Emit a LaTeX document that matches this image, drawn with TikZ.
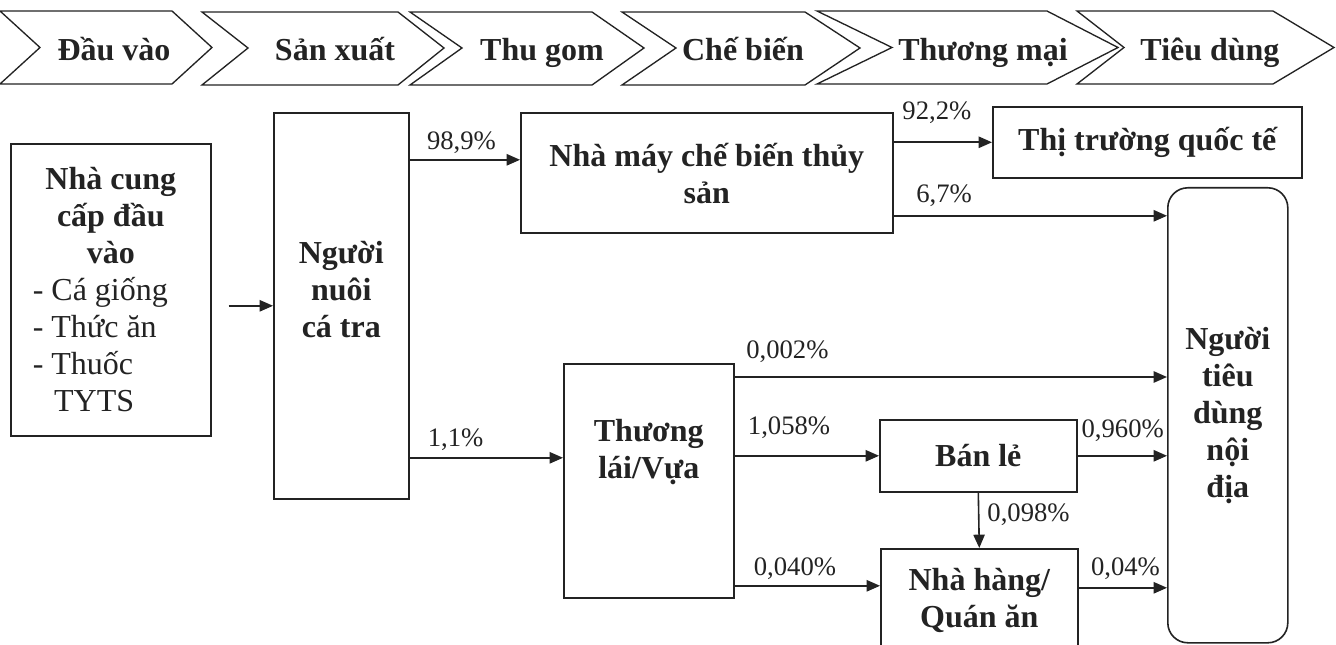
\documentclass[tikz,border=0pt]{standalone}
\usepackage{fontspec}
\setmainfont{Liberation Serif}
\usetikzlibrary{arrows.meta,calc}
\definecolor{ink}{RGB}{35,35,35}
\newcommand{\bxfont}{\fontsize{24pt}{27.75pt}\selectfont\bfseries}
\newcommand{\lbfont}{\fontsize{20pt}{24pt}\selectfont}
\begin{document}
\begin{tikzpicture}[x=0.75pt,y=-0.75pt,
  box/.style={draw=ink, line width=1.2pt, rectangle, inner sep=0pt, align=center, font=\bxfont, text=ink, anchor=north west},
  lbl/.style={font=\lbfont, text=ink, inner sep=0pt},
  arr/.style={draw=ink, line width=1.2pt, -{Triangle[length=10pt,width=8.5pt]}},
  chev/.style={draw=ink, line width=1.0pt},
  chevtext/.style={font=\bxfont, text=ink, anchor=base, inner sep=0pt}]
\path[use as bounding box, fill=white] (0,0) rectangle (1336,645);
\clip (0,0) rectangle (1336,645);

% chevrons
\draw[chev] (0,11) -- (172,11) -- (212,47.5) -- (172,84) -- (0,84) -- (40,47.5) -- cycle;
\draw[chev] (202,12) -- (398,12) -- (444,48) -- (398,85) -- (202,85) -- (248,48) -- cycle;
\draw[chev] (410,12) -- (592,12) -- (644,48) -- (592,85) -- (410,85) -- (462,48) -- cycle;
\draw[chev] (622,12) -- (805,12) -- (860,48) -- (805,85) -- (622,85) -- (676,48) -- cycle;
\draw[chev] (817,11) -- (1047,11) -- (1118,47.5) -- (1047,84) -- (817,84) -- (892,47.5) -- cycle;
\draw[chev] (1077,11) -- (1273,11) -- (1334,47.5) -- (1273,84) -- (1077,84) -- (1124,47.5) -- cycle;
\node[chevtext] (c1) at (114,61) {Đầu vào};
\node[chevtext] (c2) at (335,61) {Sản xuất};
\node[chevtext] (c3) at (542,61) {Thu gom};
\node[chevtext] (c4) at (743,61) {Chế biến};
\node[chevtext] (c5) at (983,61) {Thương mại};
\node[chevtext] (c6) at (1210,61) {Tiêu dùng};

% boxes
\node[box, minimum width=150pt, minimum height=219pt] (supply) at (10,143)
  {Nhà cung\\cấp đầu\\vào\\
   \makebox[117pt][l]{\mdseries - Cá giống}\\
   \makebox[117pt][l]{\mdseries - Thức ăn}\\
   \makebox[117pt][l]{\mdseries - Thuốc}\\
   \makebox[117pt][l]{\mdseries\hspace{16pt}TYTS}};
\node[box, minimum width=101.25pt, minimum height=289.5pt] (nuoi) at (273,112)
  {\raisebox{9.75pt}[\height][\depth]{\begin{tabular}{@{}c@{}}Người\\nuôi\\cá tra\end{tabular}}};
\node[box, minimum width=279pt, minimum height=90pt] (nhamay) at (520,112)
  {\raisebox{-3.75pt}[\height][\depth]{\begin{tabular}{@{}c@{}}Nhà máy chế biến thủy\\sản\end{tabular}}};
\node[box, minimum width=231.75pt, minimum height=53.25pt] (quocte) at (992,106)
  {Thị trường quốc tế};
\node[box, rounded corners=15pt, minimum width=90pt, minimum height=341.25pt] (noidia) at (1167,187)
  {Người\\tiêu\\dùng\\nội\\địa};
\node[box, minimum width=127.5pt, minimum height=175.5pt] (thuonglai) at (563,363)
  {\raisebox{21pt}[\height][\depth]{\begin{tabular}{@{}c@{}}Thương\\lái/Vựa\end{tabular}}};
\node[box, minimum width=147.75pt, minimum height=54pt] (banle) at (879,419)
  {Bán lẻ};
\node[box, minimum width=147.75pt, minimum height=78pt] (nhahang) at (880,548)
  {Nhà hàng/\\Quán ăn};

% connectors
\coordinate (s1) at ($(supply.east |- nuoi.west)+(17,0)$);
\draw[arr] (s1) -- (nuoi.west);

\coordinate (a2) at ($(nhamay.west)+(0,-13)$);
\draw[arr] (a2 -| nuoi.east) -- node[lbl, pos=0.47, yshift=12.75pt] {98,9\%} (a2);

\coordinate (a3) at ($(thuonglai.west)+(0,-23)$);
\draw[arr] (a3 -| nuoi.east) -- node[lbl, pos=0.30, yshift=13.5pt] {1,1\%} (a3);

\draw[arr] (nhamay.east |- quocte.west) -- node[lbl, pos=0.44, yshift=22pt] {92,2\%} (quocte.west);

\coordinate (a5) at ($(nhamay.east)+(0,43)$);
\draw[arr] (a5) -- node[lbl, pos=0.185, yshift=15pt] {6,7\%} (a5 -| noidia.west);

\coordinate (a6) at ($(thuonglai.north east)+(0,14)$);
\draw[arr] (a6) -- node[lbl, pos=0.122, yshift=18.75pt] {0,002\%} (a6 -| noidia.west);

\draw[arr] (thuonglai.east |- banle.west) -- node[lbl, pos=0.377, yshift=21pt] {1,058\%} (banle.west);

\coordinate (a8) at ($(nhahang.west)+(0,-15)$);
\draw[arr] (a8 -| thuonglai.east) -- node[lbl, pos=0.415, yshift=12.75pt] {0,040\%} (a8);

\draw[arr] (banle.east) -- node[lbl, pos=0.505, yshift=19pt] {0,960\%} (banle.east -| noidia.west);

\draw[arr] (banle.south) -- node[lbl, pos=0.39, anchor=west, xshift=6pt] {0,098\%} (nhahang.north);

\coordinate (a11) at ($(nhahang.east)+(0,-13)$);
\draw[arr] (a11) -- node[lbl, pos=0.53, yshift=14.25pt] {0,04\%} (a11 -| noidia.west);
\end{tikzpicture}
\end{document}
